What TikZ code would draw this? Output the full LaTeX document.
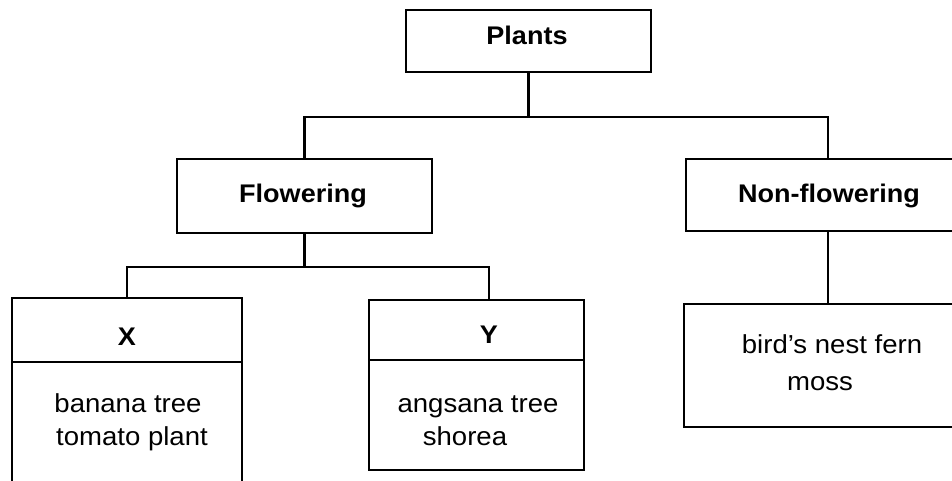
\documentclass[tikz,border=0pt]{standalone}
\usepackage{fontspec}
\setmainfont{Liberation Sans}[FakeStretch=1.06]
\begin{document}
\begin{tikzpicture}[x=1pt,y=-1pt,
  box/.style={draw=black,line width=2.4pt,rectangle,inner sep=0pt},
  lbl/.style={anchor=base,inner sep=0pt,font=\fontsize{26}{30}\selectfont},
  blbl/.style={lbl,font=\fontsize{25.5}{30}\selectfont\bfseries},
  conn/.style={draw=black,line width=2.4pt}]
\useasboundingbox (0,0) rectangle (952,481);
\clip (0,0) rectangle (952,481);
% boxes
\node[box,minimum width=245pt,minimum height=62pt] (plants) at (528.5,41) {};
\node[box,minimum width=255pt,minimum height=74pt] (flow) at (304.5,196) {};
\node[box,minimum width=284pt,minimum height=72pt] (nonf) at (828,195) {};
\node[box,minimum width=230pt,minimum height=64pt] (xhead) at (127,330) {};
\node[box,minimum width=230pt,minimum height=158pt] (xbody) at (127,441) {};
\node[box,minimum width=215pt,minimum height=60pt] (yhead) at (476.5,330) {};
\node[box,minimum width=215pt,minimum height=110pt] (ybody) at (476.5,415) {};
\node[box,minimum width=288pt,minimum height=123pt] (bird) at (828,365.5) {};
% texts
\node[blbl] (tplants) at (527,45) {Plants};
\node[blbl] (tflow) at (303,202) {Flowering};
\node[blbl] (tnonf) at (829,202) {Non-flowering};
\node[blbl] (tx) at (127,345) {X};
\node[blbl] (ty) at (489,343) {Y};
\node[lbl] (t1) at (128,412) {banana tree};
\node[lbl] (t2) at (132,445) {tomato plant};
\node[lbl] (t3) at (478,412) {angsana tree};
\node[lbl] (t4) at (465,445) {shorea};
\node[lbl] (t5) at (832,353) {bird’s nest fern};
\node[lbl] (t6) at (820,390) {moss};
% connectors
\coordinate (j1) at (528.5,117);
\coordinate (j2) at (304.5,267);
\coordinate (ytop) at (489,300);
\draw[conn] (plants.south) -- (j1);
\draw[conn] (flow.north) |- (j1) -| (nonf.north);
\draw[conn] (flow.south) -- (j2);
\draw[conn] (xhead.north) |- (j2) -| (ytop);
\draw[conn] (nonf.south) -- (bird.north);
\end{tikzpicture}
\end{document}
